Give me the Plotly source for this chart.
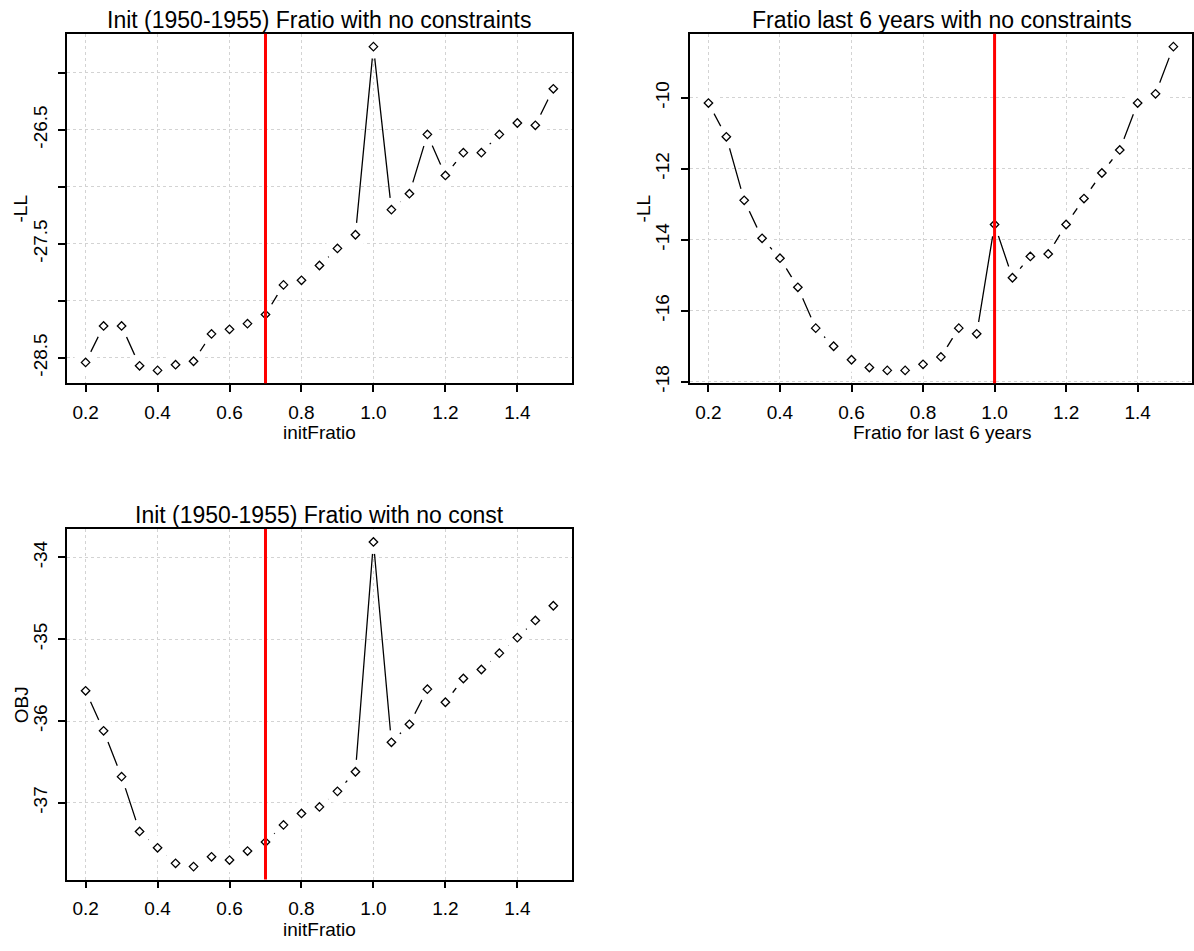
import plotly.graph_objects as go

# ---------------- data ----------------
fratio = [0.20, 0.25, 0.30, 0.35, 0.40, 0.45, 0.50, 0.55, 0.60, 0.65,
          0.70, 0.75, 0.80, 0.85, 0.90, 0.95, 1.00, 1.05, 1.10, 1.15,
          1.20, 1.25, 1.30, 1.35, 1.40, 1.45, 1.50]

negll_init = [-28.54, -28.22, -28.22, -28.57, -28.61, -28.56, -28.53, -28.29, -28.25, -28.20,
              -28.12, -27.86, -27.82, -27.69, -27.54, -27.42, -25.77, -27.20, -27.06, -26.54,
              -26.90, -26.70, -26.70, -26.54, -26.44, -26.46, -26.14]

negll_last6 = [-10.15, -11.10, -12.89, -13.96, -14.52, -15.34, -16.49, -17.00, -17.38, -17.60,
               -17.68, -17.68, -17.51, -17.30, -16.49, -16.65, -13.57, -15.07, -14.47, -14.40,
               -13.57, -12.84, -12.12, -11.47, -10.15, -9.89, -8.56]

obj_init = [-35.63, -36.12, -36.68, -37.35, -37.55, -37.74, -37.78, -37.66, -37.70, -37.59,
            -37.48, -37.27, -37.13, -37.05, -36.86, -36.62, -33.81, -36.26, -36.04, -35.61,
            -35.77, -35.48, -35.37, -35.17, -34.98, -34.77, -34.59]

x_ticks = [0.2, 0.4, 0.6, 0.8, 1.0, 1.2, 1.4]
x_ticktext = ["0.2", "0.4", "0.6", "0.8", "1.0", "1.2", "1.4"]

y1_ticks = [-28.5, -28.0, -27.5, -27.0, -26.5, -26.0]
y1_text = ["-28.5", "", "-27.5", "", "-26.5", ""]
y2_ticks = [-18, -16, -14, -12, -10]
y2_text = ["-18", "-16", "-14", "-12", "-10"]
y3_ticks = [-37, -36, -35, -34]
y3_text = ["-37", "-36", "-35", "-34"]

titles = ["Init (1950-1955) Fratio with no constraints",
          "Fratio last 6 years with no constraints",
          "Init (1950-1955) Fratio with no const"]
xlabels = ["initFratio", "Fratio for last 6 years", "initFratio"]
ylabels = ["-LL", "-LL", "OBJ"]
ref_lines = [0.7, 1.0, 0.7]

# ---------------- layout helpers ----------------
W, H = 1194, 951
FONT = "Liberation Sans, Arial, sans-serif"


def pad(vals):
    lo, hi = min(vals), max(vals)
    d = (hi - lo) * 0.04
    return [lo - d, hi + d]


def px_x(a, b):
    return [a / W, min(b / W, 1.0)]


def px_y(top, bottom):
    return [1 - bottom / H, 1 - top / H]


panels = [
    dict(ys=negll_init, xd=px_x(67, 573), yd=px_y(34, 387), yt=y1_ticks, ytt=y1_text),
    dict(ys=negll_last6, xd=px_x(691, 1197), yd=px_y(34, 387), yt=y2_ticks, ytt=y2_text),
    dict(ys=obj_init, xd=px_x(67, 573), yd=px_y(534, 888), yt=y3_ticks, ytt=y3_text),
]

fig = go.Figure()

axis_common = dict(
    showline=True, mirror=True, linecolor="black", linewidth=1.5,
    ticks="outside", ticklen=7, tickcolor="black", tickwidth=1.5,
    showgrid=True, gridcolor="#D3D3D3", griddash="dot", gridwidth=1,
    zeroline=False, layer="above traces",
    tickfont=dict(size=19, color="black", family=FONT),
)

for i, p in enumerate(panels):
    n = i + 1
    xa = "x" if n == 1 else f"x{n}"
    ya = "y" if n == 1 else f"y{n}"
    # connecting line
    fig.add_trace(go.Scatter(x=fratio, y=p["ys"], mode="lines",
                             line=dict(color="black", width=1.3),
                             xaxis=xa, yaxis=ya, showlegend=False, hoverinfo="skip"))
    # white gap around each point (R type="b")
    fig.add_trace(go.Scatter(x=fratio, y=p["ys"], mode="markers",
                             marker=dict(symbol="circle", size=24, color="white",
                                         line=dict(width=0)),
                             xaxis=xa, yaxis=ya, showlegend=False, hoverinfo="skip"))
    # open diamonds
    fig.add_trace(go.Scatter(x=fratio, y=p["ys"], mode="markers",
                             marker=dict(symbol="diamond-open", size=6.5, color="black",
                                         line=dict(width=1.3, color="black")),
                             xaxis=xa, yaxis=ya, showlegend=False))

    xkey = "xaxis" if n == 1 else f"xaxis{n}"
    ykey = "yaxis" if n == 1 else f"yaxis{n}"
    fig.update_layout(**{
        xkey: dict(axis_common, domain=p["xd"], range=pad(fratio), anchor=ya,
                   tickvals=x_ticks, ticktext=x_ticktext, ticklabelstandoff=4),
        ykey: dict(axis_common, domain=p["yd"], range=pad(p["ys"]), anchor=xa,
                   tickvals=p["yt"], ticktext=p["ytt"], tickangle=-90,
                   ticklabelstandoff=4),
    })

    fig.add_shape(type="line", xref=xa, yref=f"{ya} domain",
                  x0=ref_lines[i], x1=ref_lines[i], y0=0, y1=1,
                  line=dict(color="#FF0000", width=3), layer="above")

    cx = (p["xd"][0] + p["xd"][1]) / 2
    if n == 2:
        cx = (691 + 1197) / 2 / W
    top_px = (1 - p["yd"][1]) * H
    bot_px = (1 - p["yd"][0]) * H
    mid_px = (top_px + bot_px) / 2
    left_px = p["xd"][0] * W
    # title
    fig.add_annotation(text=titles[i], xref="paper", yref="paper",
                       x=cx, y=1 - (top_px - 14) / H, showarrow=False,
                       xanchor="center", yanchor="middle",
                       font=dict(size=23, color="black", family=FONT))
    # x label
    fig.add_annotation(text=xlabels[i], xref="paper", yref="paper",
                       x=cx, y=1 - (bot_px + 50) / H, showarrow=False,
                       xanchor="center", yanchor="middle",
                       font=dict(size=19, color="black", family=FONT))
    # y label
    fig.add_annotation(text=ylabels[i], xref="paper", yref="paper",
                       x=(left_px - 46) / W, y=1 - mid_px / H, showarrow=False,
                       xanchor="center", yanchor="middle", textangle=-90,
                       font=dict(size=19, color="black", family=FONT))

fig.update_layout(
    width=W, height=H,
    margin=dict(l=0, r=0, t=0, b=0),
    paper_bgcolor="white", plot_bgcolor="white",
    font=dict(family=FONT, color="black"),
    showlegend=False,
)

fig.write_html("out.html", config={"displayModeBar": False},
               post_script="document.body.style.margin='0';document.body.style.overflow='hidden';")
